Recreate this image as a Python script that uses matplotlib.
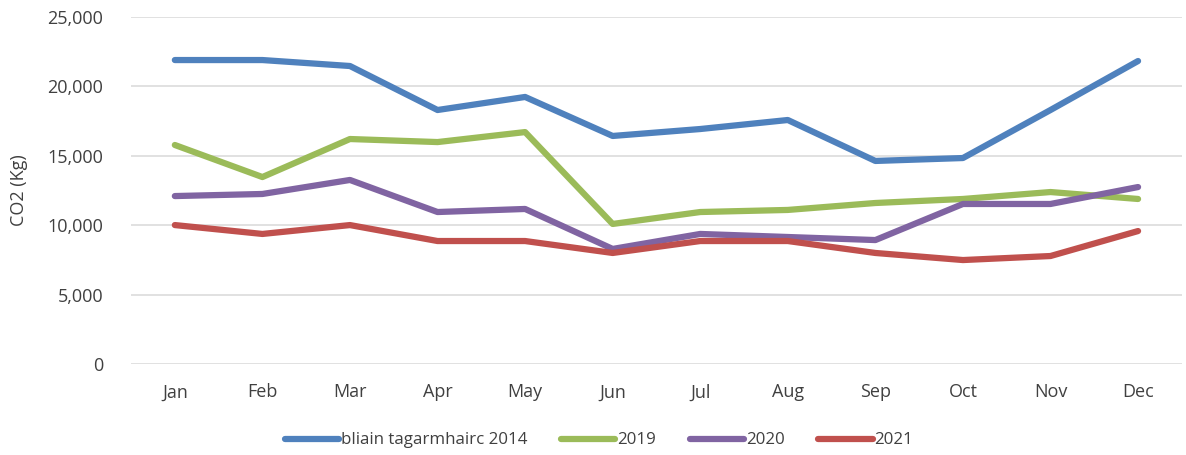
import matplotlib
matplotlib.use('Agg')
import matplotlib.pyplot as plt
from matplotlib.ticker import FuncFormatter

months = ['Jan', 'Feb', 'Mar', 'Apr', 'May', 'Jun', 'Jul', 'Aug', 'Sep', 'Oct', 'Nov', 'Dec']
baseline2014 = [21900, 21900, 21470, 18300, 19240, 16430, 16930, 17580, 14630, 14840, 18300, 21830]
y2019 = [15780, 13470, 16210, 15990, 16710, 10090, 10950, 11100, 11600, 11890, 12390, 11890]
y2020 = [12100, 12250, 13260, 10950, 11170, 8290, 9370, 9150, 8930, 11530, 11530, 12750]
y2021 = [10010, 9370, 10010, 8860, 8860, 8000, 8860, 8860, 8000, 7490, 7780, 9580]

plt.rcParams['font.family'] = ['Open Sans', 'DejaVu Sans']
txt = '#404040'

fig = plt.figure(figsize=(11.86, 4.55), dpi=100)
ax = fig.add_axes([0.1105, 0.2, 0.886, 0.7626])

x = range(len(months))
ax.plot(x, baseline2014, c='#4F81BD', lw=4.5, solid_capstyle='round', label='bliain tagarmhairc 2014')
ax.plot(x, y2019, c='#9BBB59', lw=4.5, solid_capstyle='round', label='2019')
ax.plot(x, y2020, c='#8064A2', lw=4.5, solid_capstyle='round', label='2020')
ax.plot(x, y2021, c='#C0504D', lw=4.5, solid_capstyle='round', label='2021')

ax.set_xlim(-0.5, 11.5)
ax.set_ylim(0, 25000)
ax.set_yticks(range(0, 25001, 5000))
ax.yaxis.set_major_formatter(FuncFormatter(lambda v, p: f'{int(v):,}'))
ax.set_xticks(list(x))
ax.set_xticklabels(months)
ax.grid(axis='y', color='#dedede', lw=1.3)
ax.set_axisbelow(True)
for s in ax.spines.values():
    s.set_visible(False)
ax.tick_params(axis='y', length=0, labelsize=13, colors=txt, pad=20)
ax.tick_params(axis='x', length=0, labelsize=13, colors=txt, pad=14)
ax.set_ylabel('CO2 (Kg)', fontsize=13, color=txt, labelpad=14)

fig.legend(loc='center', bbox_to_anchor=(0.505, 0.032), ncol=4, frameon=False,
           fontsize=12.2, handlelength=3.2, handletextpad=0.1, columnspacing=2.0,
           labelcolor=txt)

fig.savefig('out.png', dpi=100)
